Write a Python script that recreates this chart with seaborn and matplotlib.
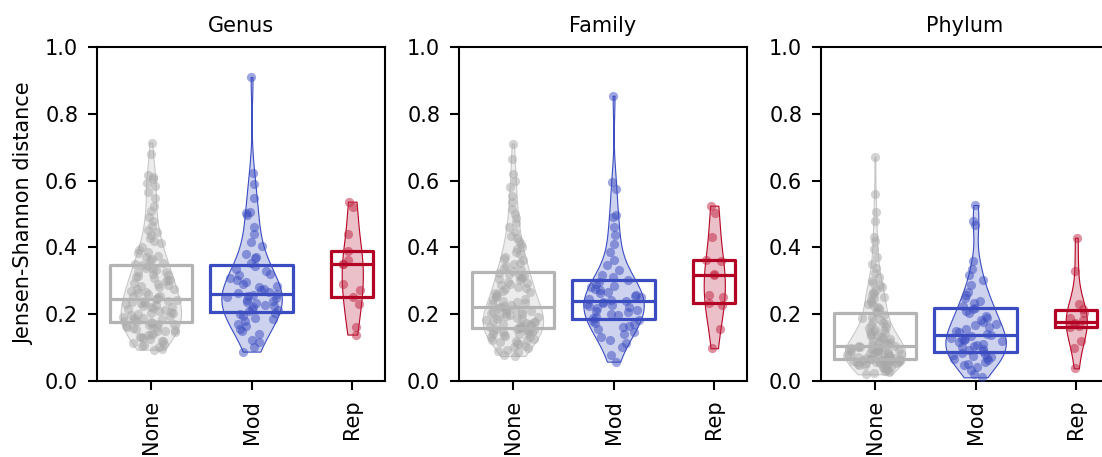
import numpy as np
import pandas as pd
import matplotlib
matplotlib.use("Agg")
import matplotlib.pyplot as plt
import seaborn as sns
from matplotlib.colors import to_rgba

sns.set_style("ticks")
plt.rcParams['font.family'] = ['DejaVu Sans']
plt.rcParams.update({"text.color": "black", "axes.labelcolor": "black",
                     "xtick.color": "black", "ytick.color": "black"})

panels = ["Genus", "Family", "Phylum"]
categories = ["None", "Mod", "Rep"]
ylabel = "Jensen-Shannon distance"
yticks = [0.0, 0.2, 0.4, 0.6, 0.8, 1.0]

# ---- Genus ----
genus_none = [0.094, 0.097, 0.101, 0.104, 0.108, 0.112, 0.115, 0.119, 0.121, 0.126,
              0.128, 0.131, 0.133, 0.137, 0.141, 0.142, 0.146, 0.149, 0.151, 0.153,
              0.156, 0.158, 0.161, 0.162, 0.165, 0.167, 0.169, 0.171, 0.172, 0.174,
              0.176, 0.179, 0.181, 0.182, 0.186, 0.188, 0.19, 0.193, 0.196, 0.198,
              0.201, 0.203, 0.204, 0.208, 0.21, 0.213, 0.216, 0.218, 0.221, 0.223,
              0.226, 0.227, 0.231, 0.233, 0.234, 0.237, 0.239, 0.241, 0.243, 0.245,
              0.247, 0.251, 0.254, 0.255, 0.259, 0.262, 0.266, 0.269, 0.274, 0.276,
              0.281, 0.283, 0.287, 0.291, 0.293, 0.298, 0.301, 0.303, 0.307, 0.311,
              0.314, 0.317, 0.321, 0.325, 0.327, 0.331, 0.336, 0.338, 0.343, 0.346,
              0.351, 0.354, 0.361, 0.366, 0.371, 0.374, 0.382, 0.386, 0.392, 0.401,
              0.412, 0.418, 0.428, 0.436, 0.445, 0.452, 0.465, 0.478, 0.49, 0.51,
              0.525, 0.548, 0.565, 0.585, 0.593, 0.604, 0.61, 0.618, 0.68, 0.714]
genus_mod = [0.088, 0.102, 0.117, 0.124, 0.142, 0.151, 0.157, 0.166, 0.171, 0.179,
             0.186, 0.189, 0.196, 0.201, 0.205, 0.209, 0.213, 0.217, 0.221, 0.226,
             0.229, 0.233, 0.237, 0.241, 0.244, 0.249, 0.251, 0.254, 0.257, 0.26,
             0.263, 0.267, 0.271, 0.274, 0.281, 0.284, 0.291, 0.295, 0.301, 0.309,
             0.316, 0.321, 0.329, 0.336, 0.344, 0.352, 0.367, 0.372, 0.381, 0.403,
             0.416, 0.44, 0.461, 0.498, 0.502, 0.506, 0.548, 0.59, 0.624, 0.91]
genus_rep = [0.139, 0.162, 0.23, 0.252, 0.272, 0.29, 0.349, 0.35, 0.361, 0.388,
             0.441, 0.522, 0.537]

# ---- Family ----
family_none = [0.075, 0.079, 0.086, 0.09, 0.094, 0.099, 0.103, 0.106, 0.111, 0.113,
               0.116, 0.119, 0.122, 0.124, 0.127, 0.131, 0.133, 0.136, 0.138, 0.14,
               0.141, 0.144, 0.146, 0.148, 0.15, 0.151, 0.153, 0.154, 0.156, 0.157,
               0.159, 0.16, 0.163, 0.165, 0.166, 0.169, 0.171, 0.172, 0.175, 0.177,
               0.178, 0.181, 0.183, 0.186, 0.187, 0.19, 0.191, 0.194, 0.196, 0.199,
               0.201, 0.203, 0.205, 0.207, 0.21, 0.211, 0.213, 0.215, 0.217, 0.219,
               0.222, 0.225, 0.228, 0.231, 0.234, 0.236, 0.241, 0.244, 0.247, 0.252,
               0.255, 0.259, 0.263, 0.266, 0.27, 0.274, 0.278, 0.281, 0.286, 0.289,
               0.293, 0.297, 0.301, 0.304, 0.308, 0.311, 0.315, 0.318, 0.321, 0.324,
               0.328, 0.333, 0.338, 0.344, 0.349, 0.353, 0.361, 0.366, 0.372, 0.381,
               0.386, 0.394, 0.402, 0.411, 0.418, 0.427, 0.435, 0.446, 0.46, 0.472,
               0.488, 0.5, 0.515, 0.535, 0.555, 0.58, 0.6, 0.62, 0.666, 0.711]
family_mod = [0.058, 0.078, 0.101, 0.115, 0.124, 0.132, 0.141, 0.148, 0.155, 0.162,
              0.166, 0.171, 0.175, 0.18, 0.184, 0.188, 0.193, 0.198, 0.202, 0.206,
              0.21, 0.214, 0.219, 0.222, 0.226, 0.229, 0.232, 0.235, 0.238, 0.241,
              0.244, 0.247, 0.251, 0.254, 0.258, 0.262, 0.266, 0.271, 0.275, 0.28,
              0.285, 0.29, 0.296, 0.303, 0.311, 0.318, 0.331, 0.346, 0.362, 0.386,
              0.41, 0.436, 0.46, 0.49, 0.496, 0.576, 0.595, 0.854]
family_rep = [0.098, 0.157, 0.229, 0.235, 0.252, 0.257, 0.316, 0.32, 0.359, 0.361,
              0.431, 0.503, 0.525]

# ---- Phylum ----
phylum_none = [0.02, 0.024, 0.028, 0.031, 0.034, 0.036, 0.039, 0.041, 0.043, 0.045,
               0.047, 0.048, 0.05, 0.051, 0.053, 0.054, 0.055, 0.056, 0.057, 0.058,
               0.059, 0.06, 0.061, 0.062, 0.062, 0.063, 0.064, 0.064, 0.065, 0.065,
               0.066, 0.067, 0.068, 0.07, 0.071, 0.072, 0.074, 0.075, 0.077, 0.078,
               0.079, 0.081, 0.082, 0.084, 0.085, 0.087, 0.088, 0.089, 0.091, 0.092,
               0.093, 0.095, 0.096, 0.097, 0.098, 0.099, 0.1, 0.101, 0.103, 0.104,
               0.106, 0.108, 0.11, 0.113, 0.115, 0.117, 0.12, 0.122, 0.125, 0.128,
               0.131, 0.134, 0.137, 0.14, 0.143, 0.146, 0.149, 0.152, 0.156, 0.159,
               0.163, 0.167, 0.171, 0.175, 0.179, 0.183, 0.188, 0.193, 0.198, 0.204,
               0.208, 0.213, 0.218, 0.222, 0.228, 0.232, 0.238, 0.243, 0.248, 0.252,
               0.257, 0.262, 0.267, 0.273, 0.28, 0.286, 0.293, 0.3, 0.311, 0.322,
               0.337, 0.351, 0.372, 0.395, 0.42, 0.43, 0.48, 0.505, 0.56, 0.67]
phylum_mod = [0.011, 0.021, 0.032, 0.041, 0.047, 0.052, 0.057, 0.062, 0.066, 0.069,
              0.072, 0.074, 0.077, 0.081, 0.085, 0.089, 0.093, 0.097, 0.101, 0.105,
              0.109, 0.112, 0.116, 0.119, 0.122, 0.125, 0.127, 0.13, 0.134, 0.138,
              0.142, 0.146, 0.151, 0.156, 0.161, 0.167, 0.172, 0.178, 0.184, 0.19,
              0.196, 0.203, 0.209, 0.215, 0.22, 0.226, 0.233, 0.241, 0.248, 0.257,
              0.267, 0.287, 0.302, 0.316, 0.336, 0.36, 0.466, 0.48, 0.527]
phylum_rep = [0.038, 0.098, 0.12, 0.162, 0.165, 0.17, 0.174, 0.182, 0.19, 0.204,
              0.217, 0.232, 0.329, 0.429]

data = {
    "Genus": [genus_none, genus_mod, genus_rep],
    "Family": [family_none, family_mod, family_rep],
    "Phylum": [phylum_none, phylum_mod, phylum_rep],
}

colors = {"None": "#b4b4b4", "Mod": "#3b4cc0", "Rep": "#b40426"}
point_colors = {"None": "#a8a8a8", "Mod": "#3b4cc0", "Rep": "#c0203f"}
violin_widths = {"None": 0.6, "Mod": 0.6, "Rep": 0.21}
box_widths = {"None": 0.82, "Mod": 0.82, "Rep": 0.42}


def sina_offsets(vals, halfwidth, rng):
    v = np.asarray(vals, dtype=float)
    bw = v.std(ddof=1) * len(v) ** (-1 / 5)
    grid = np.linspace(v.min(), v.max(), 200)
    dens_grid = np.exp(-0.5 * ((grid[:, None] - v[None, :]) / bw) ** 2).sum(1)
    dens_pts = np.exp(-0.5 * ((v[:, None] - v[None, :]) / bw) ** 2).sum(1)
    ratio = dens_pts / dens_grid.max()
    return (rng.uniform(-1, 1, len(v))) * halfwidth * ratio * 0.95


W, H = 1102, 457
fig = plt.figure(figsize=(W / 100, H / 100), dpi=100)
lefts = [97, 459, 821]
rng = np.random.default_rng(7)
FS = 15

for pi, (panel, left) in enumerate(zip(panels, lefts)):
    ax = fig.add_axes([left / W, (H - 381) / H, 288 / W, 334 / H])
    series = data[panel]
    df = pd.DataFrame({
        "group": np.concatenate([[c] * len(s) for c, s in zip(categories, series)]),
        "value": np.concatenate(series),
    })
    # violins
    for c in categories:
        sub = df[df["group"] == c]
        n_before = len(ax.collections)
        sns.violinplot(data=sub, x="group", y="value", order=categories, ax=ax,
                       color=colors[c], cut=0, inner=None, width=violin_widths[c],
                       linewidth=0.8, density_norm="width")
        for coll in ax.collections[n_before:]:
            coll.set_facecolor(to_rgba(colors[c], 0.25))
            coll.set_edgecolor(colors[c] if c != "None" else "#c8c8c8")
            coll.set_linewidth(0.8)
    # points (sina-style jitter inside violins)
    for i, c in enumerate(categories):
        vals = np.asarray(series[i])
        xs = i + sina_offsets(vals, violin_widths[c] / 2, rng)
        sns.scatterplot(x=xs, y=vals, ax=ax, color=point_colors[c], alpha=0.5,
                        s=44, linewidth=0, zorder=3)
    # boxes
    for c in categories:
        sub = df[df["group"] == c]
        sns.boxplot(data=sub, x="group", y="value", order=categories, ax=ax,
                    color=colors[c], fill=False, width=box_widths[c], whis=0,
                    showcaps=False, showfliers=False, linewidth=2.3,
                    whiskerprops={"visible": False},
                    boxprops={"zorder": 4}, medianprops={"zorder": 4})
    ax.set_xlim(-0.535, 2.325)
    ax.set_ylim(0, 1.0)
    ax.set_yticks(yticks)
    ax.set_yticklabels([f"{t:.1f}" for t in yticks])
    ax.set_xticks(range(len(categories)))
    ax.set_xticklabels(categories, rotation=90)
    ax.set_title(panel, fontsize=FS, pad=11)
    ax.set_xlabel("")
    ax.set_ylabel(ylabel if pi == 0 else "", fontsize=FS, labelpad=8)
    ax.tick_params(axis="both", labelsize=FS, length=6.5, width=1.5, pad=7)
    for sp in ax.spines.values():
        sp.set_visible(True)
        sp.set_linewidth(1.5)
        sp.set_color("black")

fig.savefig("out.png", dpi=100)
